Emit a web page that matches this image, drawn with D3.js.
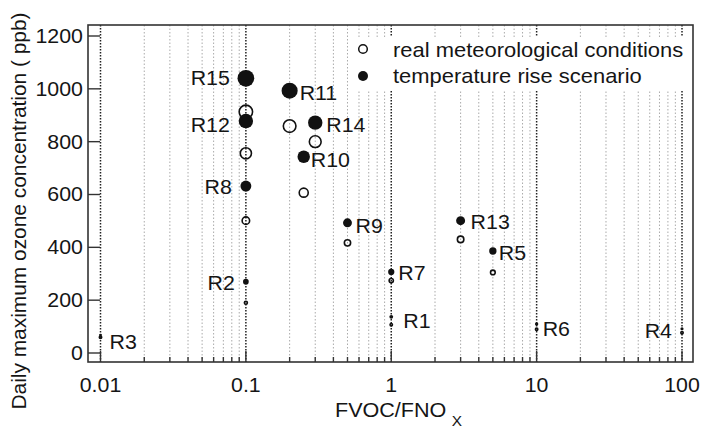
<!DOCTYPE html>
<html><head><meta charset="utf-8">
<script src="https://cdn.jsdelivr.net/npm/d3@7/dist/d3.min.js"></script>
<style>
body{margin:0;background:#fff;}
text{font-family:"Liberation Sans",Arial,Helvetica,sans-serif;fill:#151515;}
</style></head>
<body><svg id="c" width="702" height="435"></svg>
<script>
// ---- data ----
const regions  = ["R1","R2","R3","R4","R5","R6","R7","R8","R9","R10","R11","R12","R13","R14","R15"];
const fvocFno  = [1, 0.1, 0.01, 100, 5, 10, 1, 0.1, 0.5, 0.25, 0.2, 0.1, 3, 0.3, 0.1];
const realO3   = [107, 190, 60, 77, 305, 90, 274, 501, 417, 607, 859, 756, 430, 800, 913];
const tempO3   = [137, 270, 68, 92, 386, 110, 307, 632, 493, 743, 993, 878, 501, 872, 1040];
const yTicks   = [0, 200, 400, 600, 800, 1000, 1200];
const xTicks   = [0.01, 0.1, 1, 10, 100];
const xTickLabels = ["0.01", "0.1", "1", "10", "100"];
const seriesNames = ["real meteorological conditions", "temperature rise scenario"];

// label placement (layout, kept separate from data)
const labelPos = {
  R1:{dx:12,dy:4,a:"start"}, R2:{dx:-11,dy:1,a:"end"}, R3:{dx:9,dy:7,a:"start"},
  R4:{dx:-10,dy:2,a:"end"}, R5:{dx:6,dy:2,a:"start"}, R6:{dx:6,dy:5,a:"start"},
  R7:{dx:7,dy:1,a:"start"}, R8:{dx:-14,dy:1,a:"end"}, R9:{dx:8,dy:3,a:"start"},
  R10:{dx:7,dy:3,a:"start"}, R11:{dx:10,dy:2,a:"start"}, R12:{dx:-16,dy:4,a:"end"},
  R13:{dx:10,dy:1,a:"start"}, R14:{dx:11,dy:2,a:"start"}, R15:{dx:-16,dy:0,a:"end"}
};

const svg = d3.select("#c");
const frame = {l:88, r:693, t:25, b:362};
const x = d3.scaleLog().domain([0.01, 100]).range([100.5, 682]);
const y = d3.scaleLinear().domain([0, 1200]).range([353, 36]);
const rS = d3.scaleLinear().domain([0, 1100]).range([0.9, 8.8]);
const SX = 1.09, FS = 19.6;

function txt(g, str, px, py, anchor, size, sx){
  return g.append("text").attr("transform", `translate(${px},${py}) scale(${sx||SX},1)`)
    .attr("text-anchor", anchor).attr("dy", "0.35em").style("font-size", (size||FS)+"px").text(str);
}

// grid lines
const gridVals = [];
for (let e = -2; e < 2; e++) for (let m = 1; m <= 9; m++) gridVals.push(m * Math.pow(10, e));
gridVals.push(100);
const isMajor = v => Math.abs(Math.log10(v) - Math.round(Math.log10(v))) < 1e-9;
svg.append("g").selectAll("line").data(gridVals).join("line")
  .attr("x1", d => x(d)).attr("x2", d => x(d)).attr("y1", frame.t).attr("y2", frame.b)
  .attr("stroke", d => isMajor(d) ? "#222" : "#aaa")
  .attr("stroke-width", d => isMajor(d) ? 1.5 : 1)
  .attr("stroke-dasharray", d => isMajor(d) ? "1.5,1.5" : "1.5,2");

// legend background
svg.append("rect").attr("x", 352).attr("y", 37).attr("width", 340).attr("height", 53).attr("fill", "#fff");

// ticks (inward)
const tg = svg.append("g").attr("stroke", "#333").attr("stroke-width", 1.4);
tg.selectAll(".yt").data(yTicks).join("line")
  .attr("x1", frame.l).attr("x2", frame.l + 12).attr("y1", d => y(d)).attr("y2", d => y(d));
tg.selectAll(".xt").data(gridVals).join("line")
  .attr("x1", d => x(d)).attr("x2", d => x(d)).attr("y1", frame.b)
  .attr("y2", d => frame.b - (isMajor(d) ? 11 : 5));

// frame
svg.append("rect").attr("x", frame.l).attr("y", frame.t).attr("width", frame.r - frame.l)
  .attr("height", frame.b - frame.t).attr("fill", "none").attr("stroke", "#333").attr("stroke-width", 1.6);

// tick labels
const tl = svg.append("g");
yTicks.forEach(v => txt(tl, String(v), 83, y(v), "end"));
xTicks.forEach((v, i) => txt(tl, xTickLabels[i], x(v), 385, "middle"));

// axis titles
svg.append("text").attr("transform", "translate(26,211) rotate(-90) scale(1.02,1)")
  .attr("text-anchor", "middle").style("font-size", "20.5px")
  .text("Daily maximum ozone concentration ( ppb)");
const xt = svg.append("text").attr("transform", "translate(335,416.5) scale(1.1,1)").style("font-size", FS + "px");
xt.append("tspan").text("FVOC/FNO");
xt.append("tspan").attr("dx", 5).attr("dy", 9).style("font-size", "14px").text("X");

// points
const pts = regions.map((r, i) => ({r, x: fvocFno[i], real: realO3[i], temp: tempO3[i]}));
const pg = svg.append("g");
pg.selectAll(".o").data(pts).join("circle")
  .attr("cx", d => x(d.x)).attr("cy", d => y(d.real)).attr("r", d => Math.max(1.2, rS(d.real) - 0.75))
  .attr("fill", "none").attr("stroke", "#111").attr("stroke-width", 1.6);
pg.selectAll(".f").data(pts).join("circle")
  .attr("cx", d => x(d.x)).attr("cy", d => y(d.temp)).attr("r", d => rS(d.temp))
  .attr("fill", "#111");

// region labels
const lg = svg.append("g");
pts.forEach(d => {
  const p = labelPos[d.r];
  txt(lg, d.r, x(d.x) + p.dx, y(d.temp) + p.dy, p.a);
});

// legend
const leg = svg.append("g");
leg.append("circle").attr("cx", 363).attr("cy", 49).attr("r", 4.3).attr("fill", "none").attr("stroke", "#111").attr("stroke-width", 1.5);
leg.append("circle").attr("cx", 363).attr("cy", 76).attr("r", 5).attr("fill", "#111");
txt(leg, seriesNames[0], 393, 50, "start", 19.6, 1.12);
txt(leg, seriesNames[1], 393, 76, "start", 19.6, 1.12);
</script></body></html>
